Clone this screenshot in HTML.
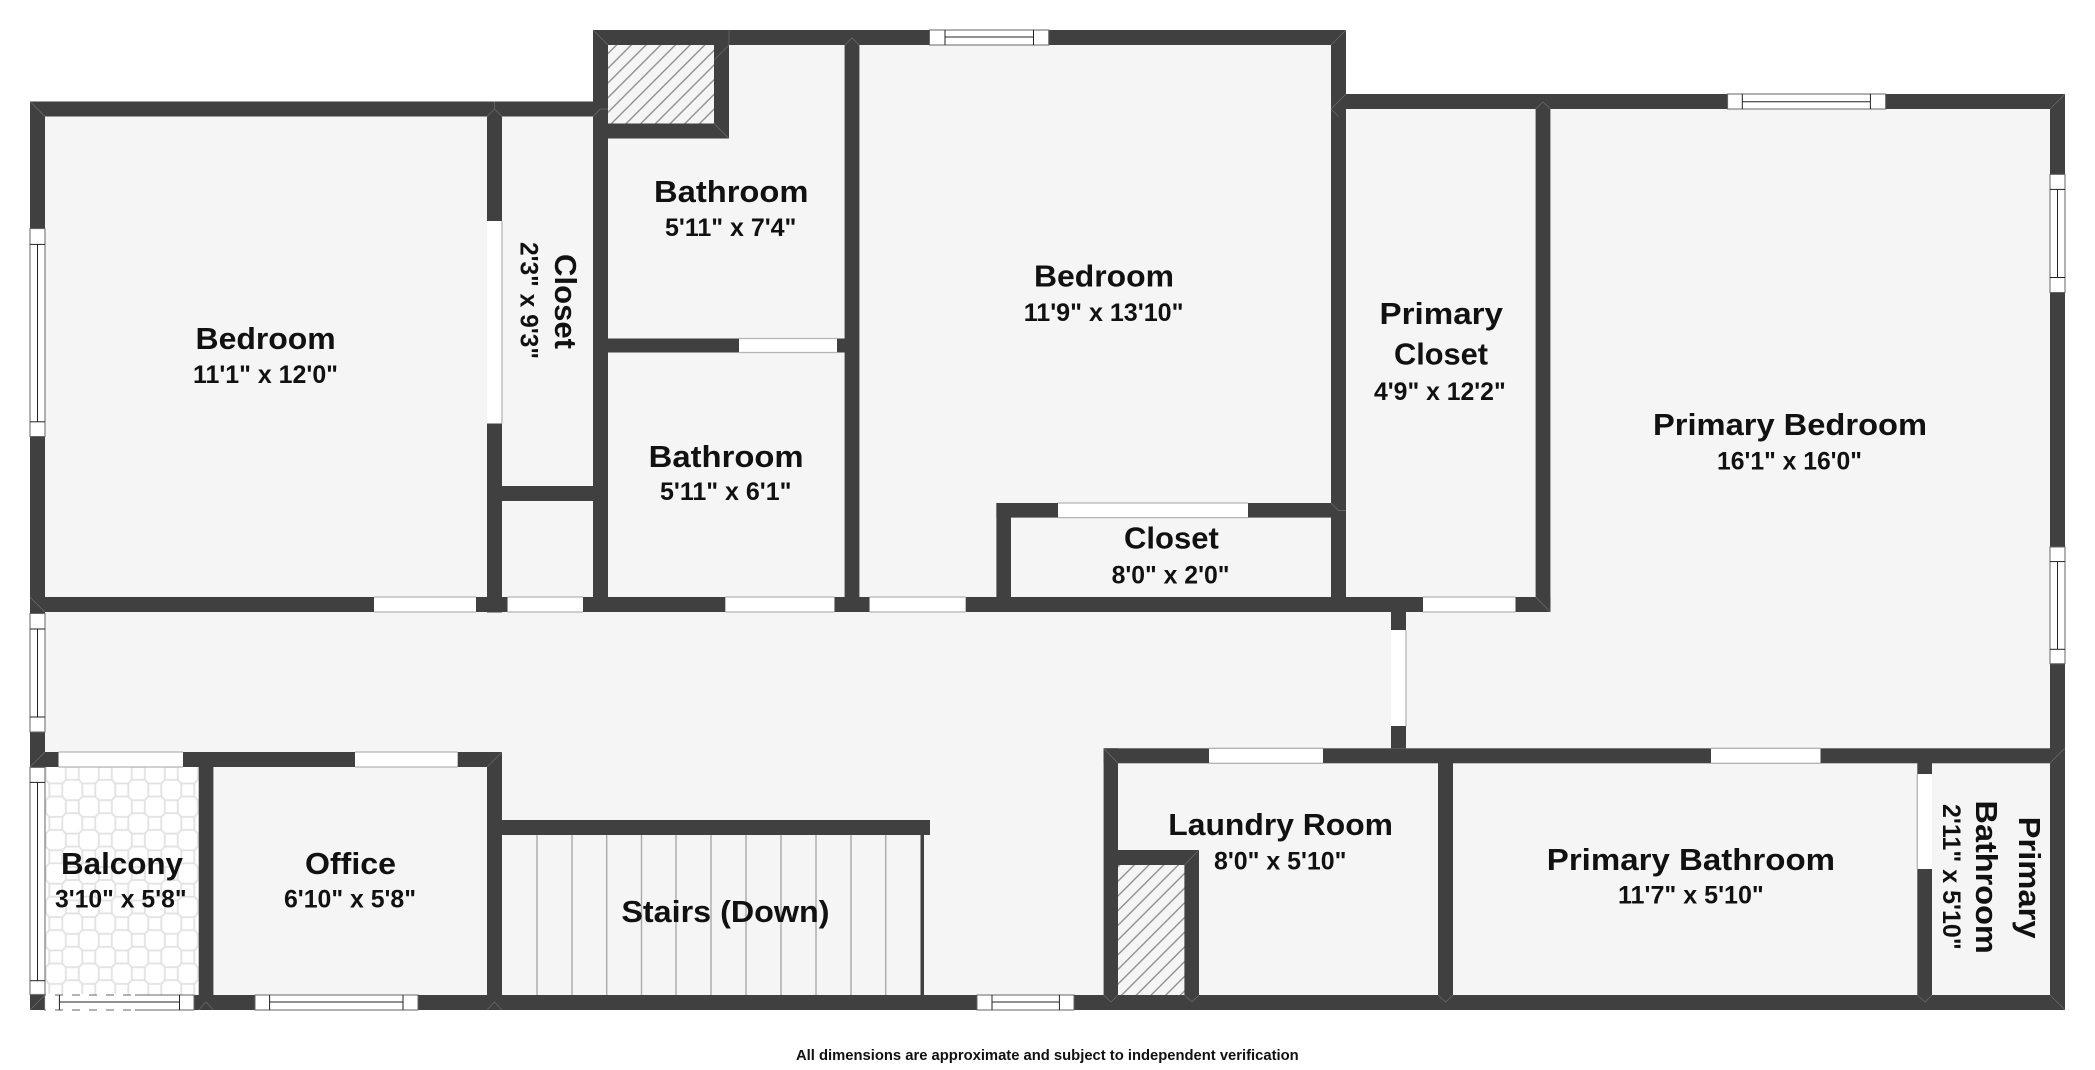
<!DOCTYPE html>
<html lang="en"><head><meta charset="utf-8"><title>Floor plan</title>
<style>
html,body{margin:0;padding:0;background:#fff;width:2095px;height:1070px;overflow:hidden}
svg{display:block}
text{font-family:"Liberation Sans",sans-serif;font-weight:700;fill:#111}
.n{font-size:30.5px}.d{font-size:25px}
.w rect{fill:#404040}
.dr rect{fill:#fff}
.dl line{stroke:#b5b5b5;stroke-width:1.3}
.win rect{fill:#fff;stroke:#666;stroke-width:1}
.win line{stroke:#222;stroke-width:1}
.m path{stroke:#6c6c6c;stroke-width:.7;fill:none}
</style></head><body>
<svg xmlns="http://www.w3.org/2000/svg" width="2095" height="1070" viewBox="0 0 2095 1070">
<defs>
<pattern id="h" width="14.7" height="14.7" patternUnits="userSpaceOnUse"><path d="M-2 16.7L16.7 -2M-2 2L2 -2M12.7 16.7L16.7 12.7" stroke="#8a8a8a" stroke-width="1.3" fill="none"/></pattern>
<pattern id="t" width="33" height="33.4" patternUnits="userSpaceOnUse" patternTransform="translate(72.3 773.3)">
<rect width="33" height="33.4" fill="#fff"/>
<g fill="none" stroke="#e2e2e2" stroke-width="1.8">
<rect x="-6.5" y="-6.5" width="13" height="13"/><rect x="26.5" y="-6.5" width="13" height="13"/><rect x="-6.5" y="26.9" width="13" height="13"/><rect x="26.5" y="26.9" width="13" height="13"/><rect x="10" y="10.2" width="13" height="13"/>
<path d="M6.5 6.5L10 10.2M26.5 6.5L23 10.2M6.5 26.9L10 23.2M26.5 26.9L23 23.2"/>
</g></pattern>
</defs>
<polygon points="30,101.5 593,101.5 593,30 1346,30 1346,94 2065,94 2065,1010 30,1010" fill="#f5f5f5"/>
<rect x="45" y="767" width="154" height="228" fill="url(#t)"/>
<rect x="608" y="45" width="106" height="79" fill="url(#h)"/>
<rect x="1118" y="865" width="67" height="130" fill="url(#h)"/>
<g stroke="#aaa" stroke-width="1.4">
<line x1="537" y1="835" x2="537" y2="995"/><line x1="572" y1="835" x2="572" y2="995"/><line x1="606.7" y1="835" x2="606.7" y2="995"/><line x1="641.5" y1="835" x2="641.5" y2="995"/><line x1="676" y1="835" x2="676" y2="995"/><line x1="711" y1="835" x2="711" y2="995"/><line x1="746" y1="835" x2="746" y2="995"/><line x1="781" y1="835" x2="781" y2="995"/><line x1="816" y1="835" x2="816" y2="995"/><line x1="851" y1="835" x2="851" y2="995"/><line x1="885.7" y1="835" x2="885.7" y2="995"/>
</g>
<g class="w">
<rect x="30" y="101.5" width="564" height="15"/>
<rect x="30" y="101.5" width="15" height="127"/><rect x="30" y="436.5" width="15" height="177"/><rect x="30" y="732" width="15" height="35.5"/><rect x="30" y="995" width="14.6" height="15"/>
<rect x="487" y="116" width="15" height="105"/><rect x="487" y="423.5" width="15" height="189"/>
<rect x="502" y="486" width="91.5" height="15"/>
<rect x="593" y="30" width="15" height="582"/>
<rect x="593" y="30" width="336.5" height="15"/><rect x="1048.7" y="30" width="297.3" height="15"/>
<rect x="714" y="45" width="15" height="93.5"/><rect x="608" y="123.5" width="121" height="15"/>
<rect x="608" y="338.5" width="131" height="14"/><rect x="837" y="338.5" width="8" height="14"/>
<rect x="844.6" y="45" width="14.8" height="567"/>
<rect x="1331" y="30" width="15" height="582"/>
<rect x="996.4" y="503" width="61.6" height="14.6"/><rect x="1248" y="503" width="83" height="14.6"/><rect x="996.4" y="503" width="14.6" height="109"/>
<rect x="30" y="597" width="344" height="15"/><rect x="476" y="597" width="31.6" height="15"/><rect x="583" y="597" width="142.4" height="15"/><rect x="834.4" y="597" width="35.2" height="15"/><rect x="965.6" y="597" width="457.4" height="15"/><rect x="1515.5" y="597" width="34.9" height="15"/>
<rect x="1535.6" y="94" width="14.8" height="518"/>
<rect x="1346" y="94" width="381.6" height="15"/><rect x="1885.6" y="94" width="179.4" height="15"/>
<rect x="2050" y="94" width="15" height="80.4"/><rect x="2050" y="292.5" width="15" height="254.5"/><rect x="2050" y="663.7" width="15" height="346.3"/>
<rect x="1391" y="612" width="15" height="18"/><rect x="1391" y="726" width="15" height="22.3"/>
<rect x="1103.6" y="748.3" width="105.4" height="15"/><rect x="1323" y="748.3" width="388" height="15"/><rect x="1820.5" y="748.3" width="244.5" height="15"/>
<rect x="1103.6" y="748.3" width="14.4" height="261.7"/>
<rect x="1118" y="850" width="81" height="15"/><rect x="1184.4" y="850" width="14.6" height="145"/>
<rect x="1438" y="763" width="15" height="232"/>
<rect x="1917.3" y="763" width="14.7" height="11"/><rect x="1917.3" y="869" width="14.7" height="126"/>
<rect x="194" y="995" width="61" height="15"/><rect x="418" y="995" width="559" height="15"/><rect x="1074" y="995" width="991" height="15"/>
<rect x="30" y="752" width="28.5" height="15"/><rect x="183" y="752" width="172" height="15"/><rect x="457.6" y="752" width="44.4" height="15"/>
<rect x="198.7" y="767" width="14.7" height="228"/>
<rect x="487" y="752" width="15" height="258"/>
<rect x="502" y="820" width="428" height="15"/>
<rect x="920.5" y="835" width="3.5" height="160"/>
</g>
<g class="dr">
<rect x="487" y="221" width="15" height="202.5"/><rect x="739" y="338.5" width="98" height="14"/><rect x="1058" y="503" width="190" height="14.6"/>
<rect x="374" y="597" width="102" height="15"/><rect x="507.6" y="597" width="75.4" height="15"/><rect x="725.4" y="597" width="109" height="15"/><rect x="869.6" y="597" width="96" height="15"/><rect x="1423" y="597" width="92.5" height="15"/>
<rect x="1391" y="630" width="15" height="96"/><rect x="1209" y="748.3" width="114" height="15"/><rect x="1711" y="748.3" width="109.5" height="15"/><rect x="1917.3" y="774" width="14.7" height="95"/>
<rect x="58.5" y="752" width="124.5" height="15"/><rect x="355" y="752" width="102.6" height="15"/>
</g>
<g class="dl">
<line x1="502" y1="221" x2="502" y2="423.5"/><line x1="739" y1="338.5" x2="837" y2="338.5"/><line x1="739" y1="352.5" x2="837" y2="352.5"/>
<line x1="1058" y1="503" x2="1248" y2="503"/><line x1="1058" y1="517.6" x2="1248" y2="517.6"/>
<line x1="374" y1="612" x2="476" y2="612"/><line x1="374" y1="597" x2="476" y2="597"/><line x1="507.6" y1="612" x2="583" y2="612"/><line x1="507.6" y1="597" x2="583" y2="597"/><line x1="725.4" y1="612" x2="834.4" y2="612"/><line x1="725.4" y1="597" x2="834.4" y2="597"/><line x1="869.6" y1="612" x2="965.6" y2="612"/><line x1="869.6" y1="597" x2="965.6" y2="597"/><line x1="1423" y1="612" x2="1515.5" y2="612"/><line x1="1423" y1="597" x2="1515.5" y2="597"/>
<line x1="1406" y1="630" x2="1406" y2="726"/><line x1="1209" y1="748.3" x2="1323" y2="748.3"/><line x1="1209" y1="763.3" x2="1323" y2="763.3"/><line x1="1711" y1="748.3" x2="1820.5" y2="748.3"/><line x1="1711" y1="763.3" x2="1820.5" y2="763.3"/><line x1="1917.3" y1="774" x2="1917.3" y2="869"/>
<line x1="58.5" y1="752" x2="183" y2="752"/><line x1="58.5" y1="767" x2="183" y2="767"/><line x1="355" y1="752" x2="457.6" y2="752"/><line x1="355" y1="767" x2="457.6" y2="767"/>
</g>
<g class="win">
<rect x="929.5" y="30" width="119.2" height="15"/><line x1="945" y1="30" x2="945" y2="45"/><line x1="1033.5" y1="30" x2="1033.5" y2="45"/><line x1="945" y1="37" x2="1033.5" y2="37"/>
<rect x="1727.6" y="94" width="158" height="15"/><line x1="1742.3" y1="94" x2="1742.3" y2="109"/><line x1="1870.4" y1="94" x2="1870.4" y2="109"/><line x1="1742.3" y1="101.7" x2="1870.4" y2="101.7"/>
<rect x="44.6" y="995" width="149.4" height="15"/><line x1="59.4" y1="995" x2="59.4" y2="1010"/><line x1="179.5" y1="995" x2="179.5" y2="1010"/><line x1="59.4" y1="1002" x2="179.5" y2="1002"/>
<rect x="255" y="995" width="163" height="15"/><line x1="269.6" y1="995" x2="269.6" y2="1010"/><line x1="403" y1="995" x2="403" y2="1010"/><line x1="269.6" y1="1002" x2="403" y2="1002"/>
<rect x="977" y="995" width="97" height="15"/><line x1="992" y1="995" x2="992" y2="1010"/><line x1="1059.4" y1="995" x2="1059.4" y2="1010"/><line x1="992" y1="1002" x2="1059.4" y2="1002"/>
<rect x="30" y="228.6" width="15" height="207.9"/><line x1="30" y1="244.4" x2="45" y2="244.4"/><line x1="30" y1="421.8" x2="45" y2="421.8"/><line x1="37.5" y1="244.4" x2="37.5" y2="421.8"/>
<rect x="30" y="613.5" width="15" height="118.5"/><line x1="30" y1="629" x2="45" y2="629"/><line x1="30" y1="717" x2="45" y2="717"/><line x1="37.5" y1="629" x2="37.5" y2="717"/>
<rect x="30" y="767.4" width="15" height="227"/><line x1="30" y1="782.4" x2="45" y2="782.4"/><line x1="30" y1="980.7" x2="45" y2="980.7"/><line x1="37.5" y1="782.4" x2="37.5" y2="980.7"/>
<rect x="2050" y="174.4" width="15" height="118.1"/><line x1="2050" y1="189.4" x2="2065" y2="189.4"/><line x1="2050" y1="277.5" x2="2065" y2="277.5"/><line x1="2057.5" y1="189.4" x2="2057.5" y2="277.5"/>
<rect x="2050" y="547" width="15" height="116.7"/><line x1="2050" y1="561.6" x2="2065" y2="561.6"/><line x1="2050" y1="649.3" x2="2065" y2="649.3"/><line x1="2057.5" y1="561.6" x2="2057.5" y2="649.3"/>
</g>
<g stroke="#fff" stroke-width="2" stroke-dasharray="9 8" fill="none"><line x1="46" y1="1009.5" x2="135" y2="1009.5"/><line x1="46" y1="995" x2="135" y2="995"/></g>
<g class="m">
<path d="M30 101.5L45 116.5M487 116.5L494.5 109L502 116.5M494.5 101.5V109"/>
<path d="M593 30L608 45M729 45L714 60M729 30V45M714 123.5L729 138.5M593 116.5L600.5 109L608 109"/>
<path d="M1346 30L1331 45M844.6 45L852 38L859.4 45M1331 109L1338.5 101.5L1346 94M1331 109L1338.5 116.5"/>
<path d="M2065 94L2050 109M1535.6 109L1543 102L1550.4 109M2065 1010L2050 995M2050 763L2065 748"/>
<path d="M30 1010L45 995M198.7 1010L206 1002L213.4 1010M487 1010L494.5 1002L502 1010M502 752L487 767"/>
<path d="M1103.6 748.3L1118 763.3M1103.6 995L1111 1002L1118 995M1199 850L1184.4 865M1184.4 995L1192 1002L1199 995M1438 995L1445.5 1002L1453 995M1917.3 995L1925 1002L1932 995"/>
<path d="M1550.4 612L1535.6 597M30 597L45 612M30 767L45 752M1331 503L1338.5 510.5L1346 510.5"/>
</g>
<g class="labels">
<text class="n" x="195.5" y="349" textLength="140.2" lengthAdjust="spacingAndGlyphs">Bedroom</text>
<text class="d" x="193" y="383" textLength="145" lengthAdjust="spacingAndGlyphs">11'1" x 12'0"</text>
<text class="n" transform="translate(555 254) rotate(90)" textLength="95" lengthAdjust="spacingAndGlyphs">Closet</text>
<text class="d" transform="translate(520.5 242) rotate(90)" textLength="117" lengthAdjust="spacingAndGlyphs">2'3" x 9'3"</text>
<text class="n" x="654" y="202" textLength="154.5" lengthAdjust="spacingAndGlyphs">Bathroom</text>
<text class="d" x="665" y="236" textLength="131.4" lengthAdjust="spacingAndGlyphs">5'11" x 7'4"</text>
<text class="n" x="648.7" y="467" textLength="154.9" lengthAdjust="spacingAndGlyphs">Bathroom</text>
<text class="d" x="660" y="500" textLength="131.5" lengthAdjust="spacingAndGlyphs">5'11" x 6'1"</text>
<text class="n" x="1034" y="286.7" textLength="140" lengthAdjust="spacingAndGlyphs">Bedroom</text>
<text class="d" x="1023.7" y="321" textLength="159.8" lengthAdjust="spacingAndGlyphs">11'9" x 13'10"</text>
<text class="n" x="1379.5" y="324" textLength="123.5" lengthAdjust="spacingAndGlyphs">Primary</text>
<text class="n" x="1394" y="364.5" textLength="94" lengthAdjust="spacingAndGlyphs">Closet</text>
<text class="d" x="1374" y="400" textLength="131.7" lengthAdjust="spacingAndGlyphs">4'9" x 12'2"</text>
<text class="n" x="1653" y="435" textLength="274" lengthAdjust="spacingAndGlyphs">Primary Bedroom</text>
<text class="d" x="1717" y="469.6" textLength="145" lengthAdjust="spacingAndGlyphs">16'1" x 16'0"</text>
<text class="n" x="1124" y="548.6" textLength="94.8" lengthAdjust="spacingAndGlyphs">Closet</text>
<text class="d" x="1111.6" y="583.5" textLength="117.9" lengthAdjust="spacingAndGlyphs">8'0" x 2'0"</text>
<text class="n" x="61" y="874" textLength="122" lengthAdjust="spacingAndGlyphs">Balcony</text>
<text class="d" x="55" y="907.7" textLength="131.6" lengthAdjust="spacingAndGlyphs">3'10" x 5'8"</text>
<text class="n" x="305" y="874" textLength="91" lengthAdjust="spacingAndGlyphs">Office</text>
<text class="d" x="284" y="907.7" textLength="132" lengthAdjust="spacingAndGlyphs">6'10" x 5'8"</text>
<text class="n" x="621.4" y="922" textLength="208.1" lengthAdjust="spacingAndGlyphs">Stairs (Down)</text>
<text class="n" x="1168.3" y="835" textLength="224.7" lengthAdjust="spacingAndGlyphs">Laundry Room</text>
<text class="d" x="1214" y="869.5" textLength="132.4" lengthAdjust="spacingAndGlyphs">8'0" x 5'10"</text>
<text class="n" x="1546.8" y="870" textLength="288.2" lengthAdjust="spacingAndGlyphs">Primary Bathroom</text>
<text class="d" x="1618" y="903.6" textLength="145.8" lengthAdjust="spacingAndGlyphs">11'7" x 5'10"</text>
<text class="n" transform="translate(2019 816.6) rotate(90)" textLength="122" lengthAdjust="spacingAndGlyphs">Primary</text>
<text class="n" transform="translate(1976 800.5) rotate(90)" textLength="153.3" lengthAdjust="spacingAndGlyphs">Bathroom</text>
<text class="d" transform="translate(1943 804) rotate(90)" textLength="145.7" lengthAdjust="spacingAndGlyphs">2'11" x 5'10"</text>
<text x="796" y="1060" font-size="14.5" textLength="502.7" lengthAdjust="spacingAndGlyphs">All dimensions are approximate and subject to independent verification</text>
</g>
</svg>
</body></html>
